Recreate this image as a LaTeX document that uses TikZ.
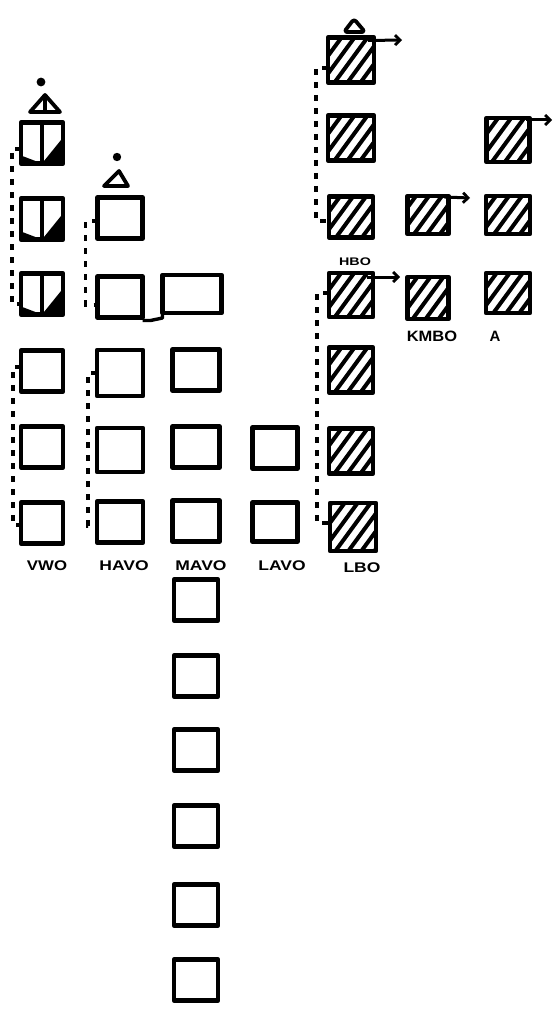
\documentclass[tikz,border=0pt]{standalone}
\usepackage{fontspec}
\setsansfont{Liberation Sans}
\usetikzlibrary{arrows.meta,calc}
\begin{document}
\begin{tikzpicture}[x=1pt,y=-1pt,
  bx/.style={draw,line width=4.4pt,minimum width=44pt,minimum height=41pt,inner sep=0pt,outer sep=0pt,line join=round},
  hb/.style={bx,path picture={\foreach \k in {-5,...,5}{\draw[line width=4pt] ([xshift=\k*13pt-22pt,yshift=-30pt]path picture bounding box.center) -- ++(44pt,60pt);}}},
  hbs/.style={hb,minimum width=41pt,minimum height=38pt},
  sb/.style={bx,minimum width=42pt,path picture={
     \fill (path picture bounding box.south) -- (path picture bounding box.south east) -- ([yshift=26pt]path picture bounding box.south east) -- cycle;
     \fill (path picture bounding box.south west) -- ([yshift=8pt]path picture bounding box.south west) -- (path picture bounding box.south) -- cycle;
     \draw[line width=3.6pt] (path picture bounding box.north) -- (path picture bounding box.south);}},
  dl/.style={line width=3.4pt,dash pattern=on 6pt off 7pt},
  arr/.style={line width=3pt,-{Straight Barb[length=5pt,width=10pt,line width=2.8pt]}},
  tri/.style={line width=3.8pt,fill=white,line join=round},
  lbl/.style={font=\sffamily\bfseries\fontsize{14}{14}\selectfont,inner sep=0pt}]
\useasboundingbox (0,0) rectangle (556,1011);
% column 1 (VWO)
\node[sb] (c1r1) at (42,143) {};
\node[sb] (c1r2) at (42,219) {};
\node[sb] (c1r3) at (42,294) {};
\node[bx,minimum width=42pt] (c1r4) at (42,371) {};
\node[bx,minimum width=42pt] (c1r5) at (42,447) {};
\node[bx,minimum width=42pt] (c1r6) at (42,523) {};
% column 2 (HAVO)
\node[bx,minimum width=45pt] (c2r2) at (120,218) {};
\node[bx,minimum width=45pt] (c2r3) at (120,297) {};
\node[bx,minimum width=46pt,minimum height=46pt] (c2r4) at (120,373) {};
\node[bx,minimum width=46pt,minimum height=44pt] (c2r5) at (120,450) {};
\node[bx,minimum width=46pt] (c2r6) at (120,522) {};
% column 3 (MAVO)
\node[bx,minimum width=59pt,minimum height=38pt] (c3r3) at (192,294) {};
\node[bx,minimum width=47pt] (c3r4) at (196,370) {};
\node[bx,minimum width=47pt] (c3r5) at (196,447) {};
\node[bx,minimum width=47pt] (c3r6) at (196,521) {};
\node[bx] (c3r7) at (196,600) {};
\node[bx] (c3r8) at (196,676) {};
\node[bx] (c3r9) at (196,750) {};
\node[bx] (c3r10) at (196,826) {};
\node[bx] (c3r11) at (196,905) {};
\node[bx] (c3r12) at (196,980) {};
% column 4 (LAVO)
\node[bx,minimum width=45pt] (c4r5) at (275,448) {};
\node[bx,minimum width=45pt,minimum height=39pt] (c4r6) at (275,522) {};
% column 5 (LBO / HBO)
\node[hb,minimum width=46pt,minimum height=45pt] (c5r0) at (351,60) {};
\node[hb,minimum width=46pt,minimum height=45pt] (c5r1) at (351,138) {};
\node[hb] (c5r2) at (351,217) {};
\node[hb,minimum height=44pt] (c5r3) at (351,295) {};
\node[hb,minimum height=45pt] (c5r4) at (351,370) {};
\node[hb,minimum height=45pt] (c5r5) at (351,451) {};
\node[hb,minimum width=46pt,minimum height=48pt] (c5r6) at (353,527) {};
% column 6 (KMBO)
\node[hbs] (c6r2) at (428,215) {};
\node[hbs,minimum height=42pt] (c6r3) at (428,298) {};
% column 7 (A)
\node[hbs,minimum width=43pt,minimum height=44pt] (c7r1) at (508,140) {};
\node[hbs,minimum width=44pt] (c7r2) at (508,215) {};
\node[hbs,minimum width=44pt,minimum height=40pt] (c7r3) at (508,293) {};
% triangles and dots
\fill (41,82) circle (4.4pt);
\draw[tri] (30,112) -- (60,112) -- (45,95) -- cycle;
\draw[line width=3.4pt] (45,97) -- (45,112);
\fill (117,157) circle (4.2pt);
\draw[tri] (104,186) -- (128,186) -- (119,171) -- cycle;
\draw[tri,rounded corners=3pt] (344,32) -- (365,32) -- (354,19) -- cycle;
% dashed connectors
\draw[dl] ([yshift=-6pt]c1r1.west) -- ++(-9,0) |- ([yshift=-10pt]c1r3.west);
\draw[dl] ([yshift=4pt]c1r4.west) -- ++(-8,0) |- ([yshift=-2pt]c1r6.west);
\draw[dl] ([yshift=-3pt]c2r2.west) -- ++(-12,0) |- ([yshift=-8pt]c2r3.west);
\draw[dl] (c2r4.west) -- ++(-9,0) |- ([yshift=-4pt]c2r6.west);
\draw[dl] ([yshift=-8pt]c5r0.west) -- ++(-12,0) |- ([yshift=-4pt]c5r2.west);
\draw[dl] ([yshift=2pt]c5r3.west) -- ++(-12,0) |- ([yshift=4pt]c5r6.west);
% link between HAVO and MAVO boxes
\draw[line width=3.4pt,line join=round] (c3r3.south west) -- ++(0,5) -- ([xshift=8pt,yshift=-3pt]c2r3.south east) -- ([yshift=-3pt]c2r3.south east);
% arrows
\coordinate (a1) at (402,40);
\coordinate (a2) at (400,277);
\coordinate (a3) at (470,198);
\coordinate (a4) at (552,120);
\draw[arr] ([xshift=-6pt,yshift=-3pt]c5r0.north east) -- (a1);
\draw[arr] ([xshift=-6pt,yshift=-4pt]c5r3.north east) -- (a2);
\draw[arr] ([xshift=-4pt,yshift=-1pt]c6r2.north east) -- (a3);
\draw[arr] ([xshift=-4pt,yshift=-2pt]c7r1.north east) -- (a4);
% labels
\node[lbl] (lvwo) at (47,566) {\scalebox{1.2}[1]{VWO}};
\node[lbl] (lhavo) at (124,566) {\scalebox{1.25}[1]{HAVO}};
\node[lbl] (lmavo) at (201,566) {\scalebox{1.25}[1]{MAVO}};
\node[lbl] (llavo) at (282,566) {\scalebox{1.25}[1]{LAVO}};
\node[lbl] (llbo) at (362,568) {\scalebox{1.25}[1]{LBO}};
\node[lbl,font=\sffamily\bfseries\fontsize{11}{11}\selectfont] (lhbo) at (355,262) {\scalebox{1.3}[1]{HBO}};
\node[lbl,font=\sffamily\bfseries\fontsize{15}{15}\selectfont] (lkmbo) at (432,336) {\scalebox{1.1}[1]{KMBO}};
\node[lbl,font=\sffamily\bfseries\fontsize{15}{15}\selectfont] (la) at (495,336) {A};
\end{tikzpicture}
\end{document}
